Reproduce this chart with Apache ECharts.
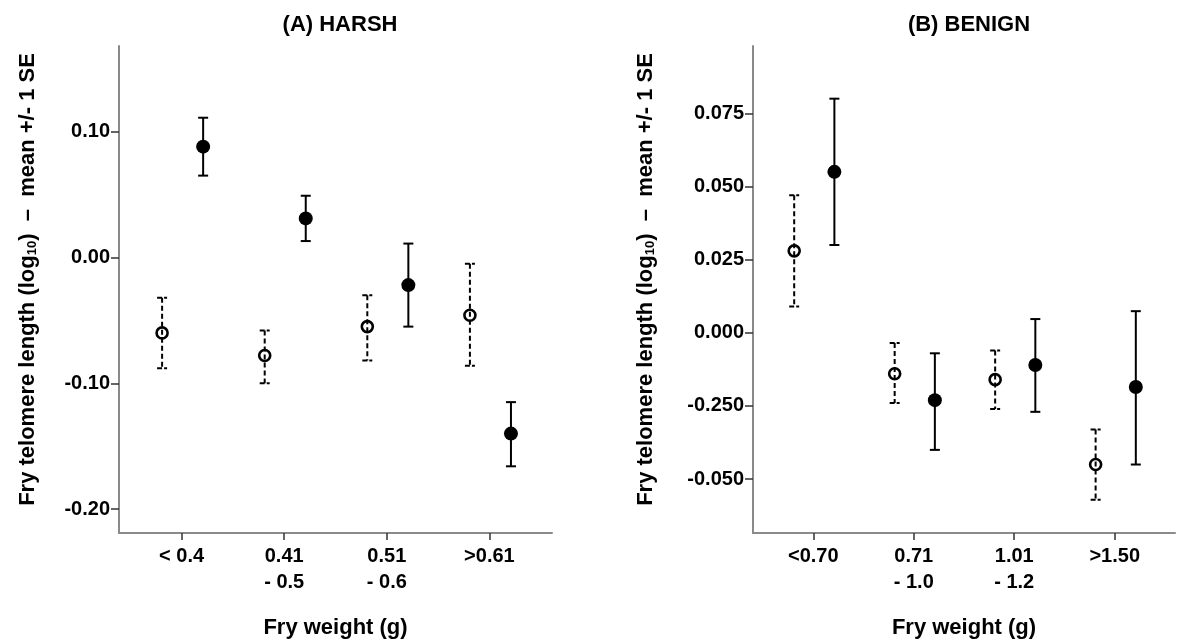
<!DOCTYPE html>
<html>
<head>
<meta charset="utf-8">
<script src="https://cdn.jsdelivr.net/npm/echarts@6/dist/echarts.min.js"></script>
<style>
  html, body { margin: 0; padding: 0; background: #fff; }
  #chart { width: 1181px; height: 644px; }
</style>
</head>
<body>
<div id="chart"></div>
<script>
// Fry weight classes for each environment
const harshCategories = ['< 0.4', '0.41\n- 0.5', '0.51\n- 0.6', '>0.61'];
const benignCategories = ['<0.70', '0.71\n- 1.0', '1.01\n- 1.2', '>1.50'];

// HARSH: open-circle group (mean, lower, upper = mean -/+ 1 SE)
const harshOpenMean  = [-0.060, -0.078, -0.055, -0.046];
const harshOpenLow   = [-0.088, -0.100, -0.082, -0.086];
const harshOpenHigh  = [-0.032, -0.058, -0.030, -0.005];
// HARSH: filled-circle group
const harshFilledMean = [0.088, 0.031, -0.022, -0.140];
const harshFilledLow  = [0.065, 0.013, -0.055, -0.166];
const harshFilledHigh = [0.111, 0.049, 0.011, -0.115];

// BENIGN: open-circle group
const benignOpenMean = [0.028, -0.014, -0.016, -0.045];
const benignOpenLow  = [0.009, -0.024, -0.026, -0.057];
const benignOpenHigh = [0.047, -0.0035, -0.006, -0.033];
// BENIGN: filled-circle group
const benignFilledMean = [0.055, -0.023, -0.011, -0.0185];
const benignFilledLow  = [0.030, -0.040, -0.027, -0.045];
const benignFilledHigh = [0.080, -0.007, 0.0047, 0.0074];

// y-axis ticks and their printed labels
const harshTicks = [-0.2, -0.1, 0, 0.1];
const harshTickLabels = ['-0.20', '-0.10', '0.00', '0.10'];
const benignTicks = [-0.05, -0.025, 0, 0.025, 0.05, 0.075];
const benignTickLabels = ['-0.050', '-0.250', '0.000', '0.025', '0.050', '0.075'];

const FONT = 'Liberation Sans, Arial, sans-serif';
const OPEN_OFFSET = -0.19;
const FILLED_OFFSET = 0.21;
const catPositions = [1, 2, 3, 4];

function points(means, offset) {
  return means.map((m, i) => [i + 1 + offset, m]);
}
function bars(lows, highs, offset) {
  return lows.map((lo, i) => [i + 1 + offset, lo, highs[i]]);
}

function errorBarSeries(gridIdx, data, dashed) {
  return {
    type: 'custom',
    xAxisIndex: gridIdx,
    yAxisIndex: gridIdx,
    silent: true,
    z: 2,
    data: data,
    renderItem: function (params, api) {
      const x = api.value(0);
      const top = api.coord([x, api.value(2)]);
      const bot = api.coord([x, api.value(1)]);
      const cap = 5;
      const style = { stroke: '#000', lineWidth: 2, lineDash: dashed ? [5, 3] : null };
      const capStyle = { stroke: '#000', lineWidth: 2, lineDash: dashed ? [5, 2] : null };
      return {
        type: 'group',
        children: [
          { type: 'line', shape: { x1: top[0], y1: top[1], x2: bot[0], y2: bot[1] }, style: style },
          { type: 'line', shape: { x1: top[0] - cap, y1: top[1], x2: top[0] + cap, y2: top[1] }, style: capStyle },
          { type: 'line', shape: { x1: bot[0] - cap, y1: bot[1], x2: bot[0] + cap, y2: bot[1] }, style: capStyle }
        ]
      };
    }
  };
}

function meanSeries(gridIdx, data, open) {
  return {
    type: 'scatter',
    xAxisIndex: gridIdx,
    yAxisIndex: gridIdx,
    silent: true,
    z: 3,
    symbol: 'circle',
    symbolSize: open ? 11 : 14,
    itemStyle: open
      ? { color: 'rgba(0,0,0,0)', borderColor: '#000', borderWidth: 2.6, opacity: 1 }
      : { color: '#000', opacity: 1 },
    data: data
  };
}

function xAxisFor(gridIdx, cats, min, max) {
  return {
    type: 'value',
    gridIndex: gridIdx,
    min: min,
    max: max,
    name: 'Fry weight (g)',
    nameLocation: 'middle',
    nameGap: 84,
    nameTextStyle: { fontFamily: FONT, fontSize: 22, fontWeight: 'bold', color: '#000' },
    splitLine: { show: false },
    axisLine: { show: true, onZero: false, lineStyle: { color: '#8a8a8a', width: 2 } },
    axisTick: { show: true, length: 7, customValues: catPositions, lineStyle: { color: '#333', width: 1.5 } },
    axisLabel: {
      customValues: catPositions,
      margin: 10,
      fontFamily: FONT, fontSize: 20, fontWeight: 'bold', color: '#000', lineHeight: 26,
      formatter: v => cats[Math.round(v) - 1] || ''
    }
  };
}

function yAxisFor(gridIdx, ticks, labels, min, max, gap) {
  return {
    type: 'value',
    gridIndex: gridIdx,
    min: min,
    max: max,
    name: 'Fry telomere length (log{sub|10})  –  mean +/- 1 SE',
    nameLocation: 'middle',
    nameGap: gap,
    nameTextStyle: {
      fontFamily: FONT, fontSize: 22, fontWeight: 'bold', color: '#000',
      padding: [0, 0, 0, 20],
      rich: {
        sub: { fontFamily: FONT, fontSize: 13, fontWeight: 'bold', color: '#000', verticalAlign: 'bottom', padding: [9, 0, 0, 0] }
      }
    },
    splitLine: { show: false },
    axisLine: { show: true, onZero: false, lineStyle: { color: '#8a8a8a', width: 2 } },
    axisTick: { show: true, length: 8, customValues: ticks, lineStyle: { color: '#333', width: 1.5 } },
    axisLabel: {
      customValues: ticks,
      margin: 9,
      fontFamily: FONT, fontSize: 20, fontWeight: 'bold', color: '#000',
      formatter: v => {
        const i = ticks.findIndex(t => Math.abs(t - v) < 1e-9);
        return i >= 0 ? labels[i] : '';
      }
    }
  };
}

const chart = echarts.init(document.getElementById('chart'), null, { renderer: 'canvas' });

chart.setOption({
  backgroundColor: '#fff',
  animation: false,
  title: [
    { text: '(A) HARSH', left: 335, top: 9, textAlign: 'center',
      textStyle: { fontFamily: FONT, fontSize: 22, fontWeight: 'bold', color: '#000' } },
    { text: '(B) BENIGN', left: 964, top: 9, textAlign: 'center',
      textStyle: { fontFamily: FONT, fontSize: 22, fontWeight: 'bold', color: '#000' } }
  ],
  grid: [
    { left: 119, top: 46, width: 433, height: 487 },
    { left: 753, top: 46, width: 422, height: 487 }
  ],
  xAxis: [
    xAxisFor(0, harshCategories, 0.39, 4.61),
    xAxisFor(1, benignCategories, 0.4, 4.6)
  ],
  yAxis: [
    yAxisFor(0, harshTicks, harshTickLabels, -0.219, 0.168, 80),
    yAxisFor(1, benignTicks, benignTickLabels, -0.0684, 0.098, 96)
  ],
  series: [
    errorBarSeries(0, bars(harshOpenLow, harshOpenHigh, OPEN_OFFSET), true),
    errorBarSeries(0, bars(harshFilledLow, harshFilledHigh, FILLED_OFFSET), false),
    meanSeries(0, points(harshOpenMean, OPEN_OFFSET), true),
    meanSeries(0, points(harshFilledMean, FILLED_OFFSET), false),
    errorBarSeries(1, bars(benignOpenLow, benignOpenHigh, OPEN_OFFSET), true),
    errorBarSeries(1, bars(benignFilledLow, benignFilledHigh, FILLED_OFFSET), false),
    meanSeries(1, points(benignOpenMean, OPEN_OFFSET), true),
    meanSeries(1, points(benignFilledMean, FILLED_OFFSET), false)
  ]
});
</script>
</body>
</html>
